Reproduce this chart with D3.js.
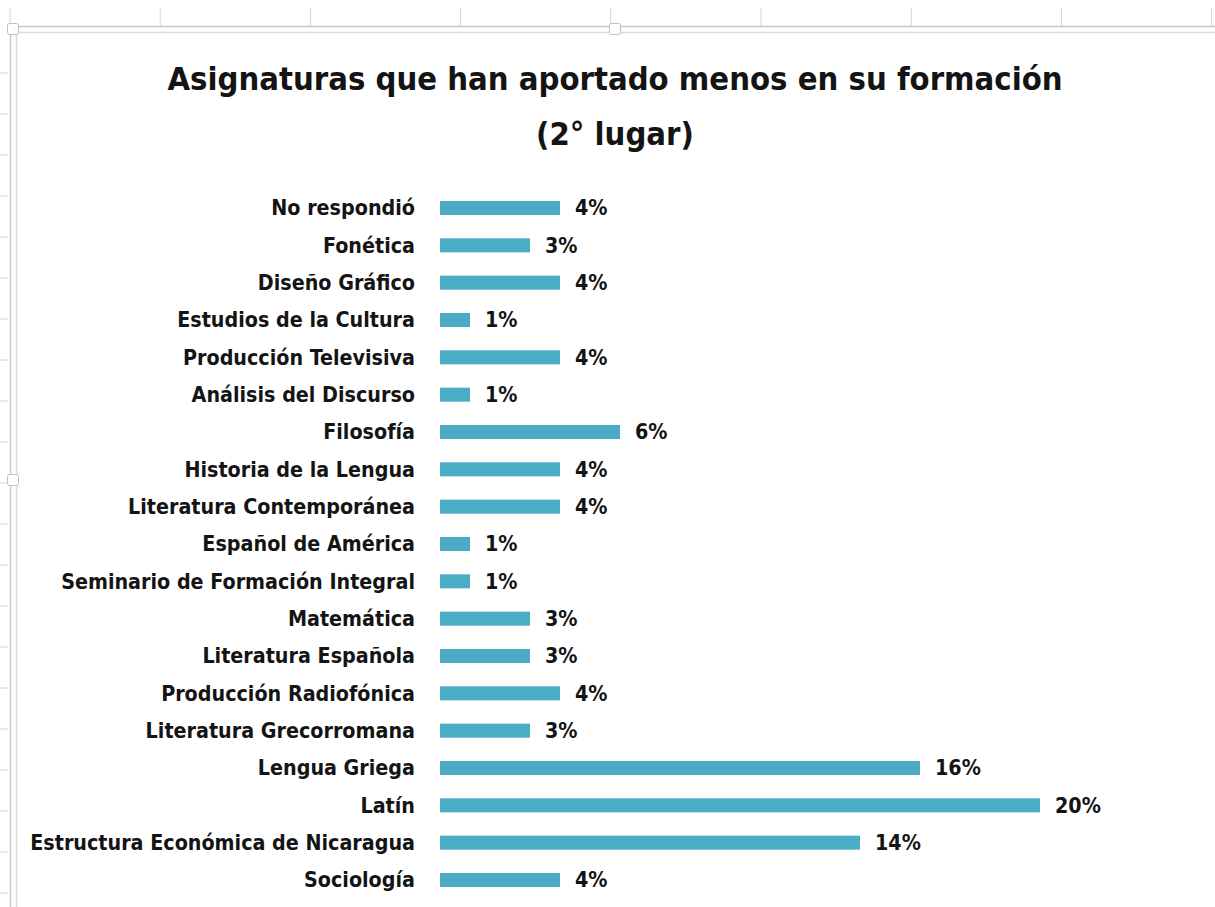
<!DOCTYPE html>
<html>
<head>
<meta charset="utf-8">
<script src="https://cdn.jsdelivr.net/npm/d3@7"></script>
<style>
  body { margin: 0; background: #fff; }
  svg { display: block; }
  text { font-family: "Liberation Sans Narrow", "DejaVu Sans Condensed", sans-serif; font-weight: bold; fill: #141414; }
</style>
</head>
<body>
<svg id="chart"></svg>
<script>
// subjects, top to bottom
const categories = [
  'No respondió', 'Fonética', 'Diseño Gráfico', 'Estudios de la Cultura',
  'Producción Televisiva', 'Análisis del Discurso', 'Filosofía',
  'Historia de la Lengua', 'Literatura Contemporánea', 'Español de América',
  'Seminario de Formación Integral', 'Matemática', 'Literatura Española',
  'Producción Radiofónica', 'Literatura Grecorromana', 'Lengua Griega',
  'Latín', 'Estructura Económica de Nicaragua', 'Sociología'
];
const values = [4, 3, 4, 1, 4, 1, 6, 4, 4, 1, 1, 3, 3, 4, 3, 16, 20, 14, 4];
const titleLines = ['Asignaturas que han aportado menos en su formación', '(2° lugar)'];

const width = 1215, height = 907;
const barColor = '#4bacc6';

const svg = d3.select('#chart')
  .attr('width', width)
  .attr('height', height);

// spreadsheet background bits
const gridX = d3.range(10, width + 1, 150.2);
svg.selectAll('.colline')
  .data(gridX)
  .enter()
  .append('line')
  .attr('x1', d => d).attr('x2', d => d)
  .attr('y1', 8).attr('y2', 26)
  .attr('stroke', '#d4d4d4');

svg.selectAll('.rowline')
  .data(d3.range(73, height, 41))
  .enter()
  .append('line')
  .attr('x1', 0).attr('x2', 8)
  .attr('y1', d => d).attr('y2', d => d)
  .attr('stroke', '#d4d4d4');

// chart frame (selected look)
svg.append('path')
  .attr('d', `M10.5,${height} V26.5 H${width}`)
  .attr('fill', 'none').attr('stroke', '#c8c8c8').attr('stroke-width', 1.5);
svg.append('path')
  .attr('d', `M16.5,${height} V32.5 H${width}`)
  .attr('fill', 'none').attr('stroke', '#dcdcdc').attr('stroke-width', 1.5);
[[13, 29], [615, 29], [13, 480]].forEach(([cx, cy]) => {
  svg.append('rect')
    .attr('x', cx - 5.5).attr('y', cy - 5.5)
    .attr('width', 11).attr('height', 11)
    .attr('rx', 2)
    .attr('fill', '#fff').attr('stroke', '#c0c0c0');
});

// title
svg.selectAll('.title')
  .data(titleLines)
  .enter()
  .append('text')
  .attr('x', 615)
  .attr('y', (d, i) => 90 + i * 55)
  .attr('text-anchor', 'middle')
  .style('font-size', '32.5px')
  .text(d => d);

// scales
const x = d3.scaleLinear()
  .domain([0, 20])
  .range([440, 1040]);

const y = d3.scalePoint()
  .domain(categories)
  .range([208, 880]);

const barHeight = 14;

const rows = svg.selectAll('.row')
  .data(categories.map((c, i) => ({ name: c, value: values[i] })))
  .enter()
  .append('g')
  .attr('transform', d => 'translate(0,' + y(d.name) + ')');

rows.append('rect')
  .attr('x', x(0))
  .attr('y', -barHeight / 2)
  .attr('width', d => x(d.value) - x(0))
  .attr('height', barHeight)
  .attr('fill', barColor);

rows.append('text')
  .attr('x', 415)
  .attr('dy', '0.35em')
  .attr('text-anchor', 'end')
  .style('font-size', '21.3px')
  .text(d => d.name);

rows.append('text')
  .attr('x', d => x(d.value) + 15)
  .attr('dy', '0.35em')
  .style('font-size', '21.3px')
  .text(d => d.value + '%');
</script>
</body>
</html>
